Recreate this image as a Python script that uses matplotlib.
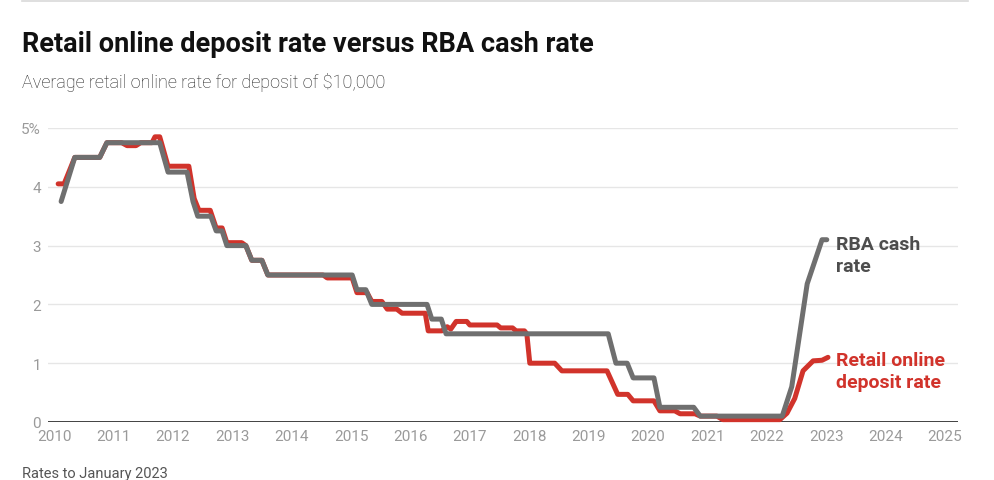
import matplotlib
matplotlib.use("Agg")
import matplotlib.pyplot as plt
from matplotlib.lines import Line2D

# ---- data (decimal years, % rates) ----
cash_dates = [2010.12, 2010.35, 2010.77, 2010.89, 2011.78, 2011.92, 2012.24, 2012.34, 2012.42,
              2012.64, 2012.73, 2012.83, 2012.91, 2013.23, 2013.33, 2013.50, 2013.60, 2015.02,
              2015.10, 2015.25, 2015.35, 2016.28, 2016.36, 2016.52, 2016.60, 2019.33, 2019.46,
              2019.65, 2019.75, 2020.10, 2020.20, 2020.77, 2020.88, 2022.26, 2022.34, 2022.42,
              2022.68, 2022.93, 2023.01]
cash_rate = [3.75, 4.5, 4.5, 4.75, 4.75, 4.25, 4.25, 3.75, 3.5,
             3.5, 3.25, 3.25, 3.0, 3.0, 2.75, 2.75, 2.5, 2.5,
             2.25, 2.25, 2.0, 2.0, 1.75, 1.75, 1.5, 1.5, 1.0,
             1.0, 0.75, 0.75, 0.25, 0.25, 0.1, 0.1, 0.35, 0.6,
             2.35, 3.1, 3.1]

dep_dates = [2010.07, 2010.17, 2010.35, 2010.77, 2010.89, 2011.14, 2011.23, 2011.38, 2011.46,
             2011.65, 2011.70, 2011.78, 2011.92, 2012.27, 2012.36, 2012.44, 2012.63, 2012.73,
             2012.83, 2012.91, 2013.16, 2013.23, 2013.33, 2013.50, 2013.60, 2014.53, 2014.60,
             2015.02, 2015.10, 2015.27, 2015.35, 2015.52, 2015.61, 2015.77, 2015.86, 2016.25,
             2016.30, 2016.53, 2016.62, 2016.68, 2016.77, 2016.95, 2017.00, 2017.46, 2017.52,
             2017.72, 2017.78, 2017.92, 2017.96, 2018.01, 2018.43, 2018.55, 2019.31, 2019.49,
             2019.66, 2019.75, 2020.10, 2020.20, 2020.45, 2020.54, 2020.79, 2020.88, 2021.16,
             2021.26, 2022.22, 2022.34, 2022.47, 2022.61, 2022.78, 2022.93, 2023.03]
dep_rate = [4.05, 4.05, 4.5, 4.5, 4.75, 4.75, 4.7, 4.7, 4.75,
            4.75, 4.85, 4.85, 4.35, 4.35, 3.8, 3.6, 3.6, 3.3,
            3.3, 3.05, 3.05, 3.0, 2.75, 2.75, 2.5, 2.5, 2.45,
            2.45, 2.2, 2.2, 2.05, 2.05, 1.92, 1.92, 1.85, 1.85,
            1.55, 1.55, 1.62, 1.58, 1.71, 1.71, 1.65, 1.65, 1.6,
            1.6, 1.55, 1.55, 1.5, 1.0, 1.0, 0.87, 0.87, 0.47,
            0.47, 0.36, 0.36, 0.19, 0.19, 0.14, 0.14, 0.1, 0.1,
            0.04, 0.04, 0.15, 0.4, 0.87, 1.04, 1.05, 1.1]

x_ticks = list(range(2010, 2026))
y_ticks = [0, 1, 2, 3, 4, 5]
y_labels = ["0", "1", "2", "3", "4", "5%"]

RED = "#d1332b"
GRAY = "#6f6f6f"

plt.rcParams['font.family'] = ['Roboto', 'DejaVu Sans']

W, H = 994, 481
fig = plt.figure(figsize=(W / 100, H / 100), dpi=100)
fig.patch.set_facecolor("white")

ax = fig.add_axes([48 / W, (H - 423) / H, (958 - 48) / W, (423 - 129) / H])
ax.set_xlim(2010 - 6 / 59.4, 2025 + 13 / 59.4)
ax.set_ylim(0, 5)

for v in y_ticks[1:]:
    ax.axhline(v, color="#e6e6e6", lw=1.0, zorder=0)
ax.axhline(0, color="#333333", lw=1.3, zorder=1)

ax.plot(dep_dates, dep_rate, color=RED, lw=3.6, solid_joinstyle="round",
        solid_capstyle="round", zorder=3, clip_on=False)
ax.plot(cash_dates, cash_rate, color=GRAY, lw=3.6, solid_joinstyle="round",
        solid_capstyle="round", zorder=4, clip_on=False)

for s in ax.spines.values():
    s.set_visible(False)
ax.set_xticks(x_ticks)
ax.set_xticklabels([str(t) for t in x_ticks])
ax.set_yticks(y_ticks)
ax.set_yticklabels(y_labels)
ax.tick_params(axis="both", length=0, colors="#9a9a9a", labelsize=11)
ax.tick_params(axis="x", pad=5)
ax.tick_params(axis="y", pad=5)

ax.text(2023.16, 3.18, "RBA cash\nrate", color="#4d4d4d", fontsize=14,
        fontweight="bold", va="top", ha="left", linespacing=1.32,
        transform=ax.transData)
ax.text(2023.16, 1.21, "Retail online\ndeposit rate", color=RED, fontsize=14,
        fontweight="bold", va="top", ha="left", linespacing=1.32,
        transform=ax.transData)

fig.add_artist(Line2D([22 / W, 968 / W], [(H - 2) / H, (H - 2) / H],
                      color="#d9d9d9", lw=1.2))

fig.text(22 / W, (H - 52) / H, "Retail online deposit rate versus RBA cash rate",
         fontsize=19.5, fontweight="bold", color="#111111", va="baseline", ha="left")
fig.text(22 / W, (H - 88) / H, "Average retail online rate for deposit of $10,000",
         fontsize=13, fontweight="light", color="#222222", va="baseline", ha="left")
fig.text(22 / W, (H - 478) / H, "Rates to January 2023",
         fontsize=10.5, color="#555555", va="baseline", ha="left")

fig.savefig("out.png", dpi=100)
